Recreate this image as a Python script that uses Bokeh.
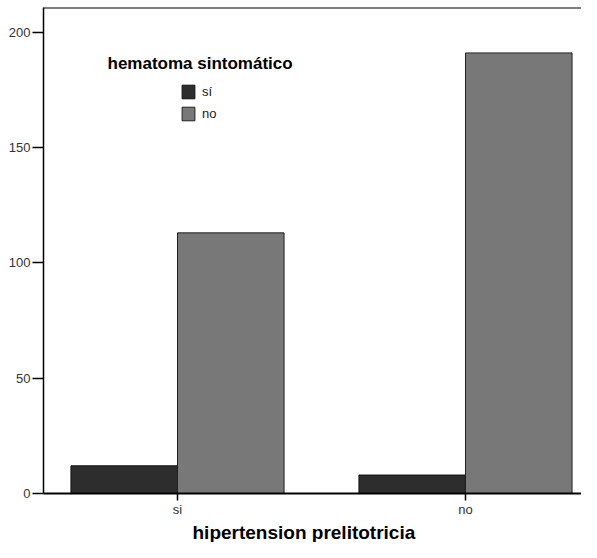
from bokeh.plotting import figure
from bokeh.models import (FixedTicker, Legend, LegendItem, Label, Span, Title,
                          ColumnDataSource, Range1d)
from bokeh.embed import file_html
from bokeh.resources import INLINE

# ---- data ----
categories = ["si", "no"]                 # hipertension prelitotricia
series_names = ["sí", "no"]               # hematoma sintomático
hematoma_si = [12, 8]
hematoma_no = [113, 191]
y_ticks = [0, 50, 100, 150, 200]

FONT = "Liberation Sans"
positions = [i + 1 for i in range(len(categories))]
bar_w = 0.37
Y_END = 210.7

src_si = ColumnDataSource(dict(x=[p - bar_w / 2 for p in positions], top=hematoma_si))
src_no = ColumnDataSource(dict(x=[p + bar_w / 2 for p in positions], top=hematoma_no))

p = figure(width=581, height=542, output_backend="svg", toolbar_location=None,
           x_range=Range1d(0.5347, 2.4028), y_range=Range1d(0, Y_END),
           min_border_left=43, min_border_right=0, min_border_top=7,
           min_border_bottom=0)
p.outline_line_color = None
p.grid.visible = False
p.background_fill_color = "white"
p.border_fill_color = "white"

r_si = p.vbar(x="x", top="top", width=bar_w, source=src_si,
              fill_color="#2d2d2d", line_color="#111111", line_width=1)
r_no = p.vbar(x="x", top="top", width=bar_w, source=src_no,
              fill_color="#787878", line_color="#222222", line_width=1)

# top frame line
p.add_layout(Span(location=Y_END, dimension="width", line_color="black", line_width=2))

# axes
p.yaxis.ticker = FixedTicker(ticks=y_ticks)
p.yaxis.minor_tick_line_color = None
p.yaxis.major_tick_in = 0
p.yaxis.major_tick_out = 11
p.yaxis.major_label_standoff = 2
p.yaxis.axis_line_width = 1.5
p.yaxis.major_tick_line_width = 1.5
p.yaxis.major_label_text_font = FONT
p.yaxis.major_label_text_font_size = "13px"
p.yaxis.major_label_text_color = "#333333"

p.xaxis.ticker = FixedTicker(ticks=positions)
p.xaxis.major_label_overrides = {pos: c for pos, c in zip(positions, categories)}
p.xaxis.minor_tick_line_color = None
p.xaxis.major_tick_in = 0
p.xaxis.major_tick_out = 7
p.xaxis.major_label_standoff = 1
p.xaxis.axis_line_width = 2
p.xaxis.major_tick_line_width = 1.5
p.xaxis.major_label_text_font = FONT
p.xaxis.major_label_text_font_size = "13px"
p.xaxis.major_label_text_color = "#333333"

# x axis title
p.add_layout(Title(text="hipertension prelitotricia", align="left", offset=149,
                   text_font=FONT, text_font_size="19px", text_font_style="bold",
                   text_color="black", standoff=0), "below")

# legend
legend = Legend(items=[LegendItem(label=series_names[0], renderers=[r_si]),
                       LegendItem(label=series_names[1], renderers=[r_no])],
                location=(137, 371), orientation="vertical",
                glyph_width=16, glyph_height=17, label_height=17, spacing=5,
                padding=0, margin=0, label_standoff=6,
                border_line_color=None, background_fill_alpha=0,
                label_text_font=FONT, label_text_font_size="13px",
                label_text_color="#222222")
p.add_layout(legend)
p.add_layout(Label(x=64, y=430, x_units="screen", y_units="screen",
                   text="hematoma sintomático", text_font=FONT,
                   text_font_size="17px", text_font_style="bold",
                   text_baseline="middle", text_color="black"))

open("out.html", "w").write(file_html(p, INLINE))
